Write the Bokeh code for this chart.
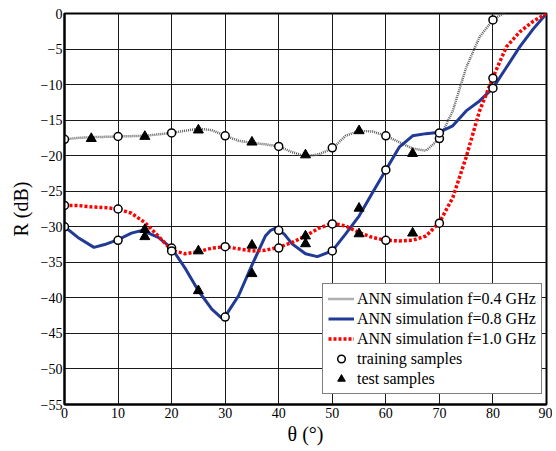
from bokeh.plotting import figure
from bokeh.models import Range1d, Legend, LegendItem, ColumnDataSource, FixedTicker
from bokeh.embed import file_html
from bokeh.resources import INLINE

# ---------------- data ----------------
x_ticks = [0, 10, 20, 30, 40, 50, 60, 70, 80, 90]
y_ticks = [0, -5, -10, -15, -20, -25, -30, -35, -40, -45, -50, -55]

# ANN simulation curves (theta in degrees, R in dB)
theta_04 = [0, 2.5, 5, 7.5, 10, 12.5, 15, 17.5, 20, 22.5, 25, 27.5, 30, 32.5, 35,
            37.5, 40, 42.5, 45, 47.5, 50, 52.5, 55, 57.5, 60, 62.5, 65, 67.5, 70,
            72.5, 75, 77.5, 80, 82.5, 85]
r_04 = [-17.7, -17.5, -17.4, -17.35, -17.3, -17.25, -17.2, -17.0, -16.8, -16.5, -16.2,
        -16.4, -17.2, -17.9, -18.2, -18.4, -18.7, -19.5, -20.1, -19.8, -19.0, -17.2,
        -16.5, -16.6, -17.2, -18.1, -19.0, -19.3, -17.6, -13.7, -7.6, -3.3, -0.9,
        0.3, 1.0]

theta_08 = [0, 2.5, 5.5, 7.5, 10, 12.5, 14.5, 17.5, 20, 22.5, 25, 27.5, 29.3, 30,
            32.5, 35, 37.5, 38.5, 39.4, 41, 42.5, 45, 47.2, 50, 52.5, 55, 57.5, 60,
            62.5, 65, 67.5, 70, 72.5, 75, 77.5, 80, 82.5, 85, 87.5, 90]
r_08 = [-30.0, -31.5, -32.9, -32.5, -31.8, -30.9, -30.5, -31.5, -33.0, -35.8, -39.0,
        -41.6, -42.8, -42.6, -39.7, -35.4, -31.3, -30.5, -30.2, -31.0, -32.4, -33.8,
        -34.2, -33.4, -31.0, -28.5, -25.2, -22.0, -18.8, -17.2, -16.9, -16.7, -15.8,
        -13.7, -12.3, -10.5, -7.6, -4.7, -2.2, 0.0]

theta_10 = [0, 2.5, 5, 7.5, 10, 12.5, 15, 17.5, 20, 22.5, 25, 27.5, 30, 32.5, 35,
            37.5, 40, 42.5, 45, 47.5, 50, 52.5, 55, 57.5, 60, 62.5, 65, 67.5, 70,
            72.5, 75, 77.5, 80, 82.5, 85, 87.5, 90]
r_10 = [-27.0, -27.0, -27.2, -27.3, -27.5, -28.1, -29.4, -31.3, -33.3, -33.8, -33.5,
        -33.0, -32.8, -33.1, -33.4, -33.3, -32.9, -32.2, -31.3, -30.2, -29.5, -29.9,
        -30.8, -31.5, -31.9, -32.0, -31.9, -31.3, -29.4, -25.9, -20.2, -13.7, -9.0,
        -4.7, -2.6, -1.1, 0.0]

# training samples
theta_train = [0, 10, 20, 30, 40, 50, 60, 70, 80]
train_04 = [-17.7, -17.3, -16.8, -17.2, -18.7, -18.9, -17.2, -17.6, -0.9]
train_08 = [-30.0, -31.9, -33.0, -42.7, -30.5, -33.4, -22.0, -16.8, -10.5]
train_10 = [-27.0, -27.5, -33.4, -32.8, -33.0, -29.6, -31.9, -29.5, -9.1]

# test samples
theta_test_04 = [5, 15, 25, 35, 45, 55, 65]
test_04 = [-17.6, -17.3, -16.4, -18.1, -19.9, -16.5, -19.7]
theta_test_08 = [15, 25, 35, 45, 55]
test_08 = [-31.4, -39.0, -36.6, -32.4, -27.4]
theta_test_10 = [15, 25, 35, 45, 55, 65]
test_10 = [-30.4, -33.4, -32.6, -31.3, -31.0, -30.9]

labels = ["ANN simulation f=0.4 GHz", "ANN simulation f=0.8 GHz",
          "ANN simulation f=1.0 GHz", "training samples", "test samples"]

# ---------------- figure ----------------
FONT = "Liberation Serif"
p = figure(width=552, height=447, x_range=Range1d(0, 90), y_range=Range1d(-55, 0),
           output_backend="svg", toolbar_location=None,
           min_border_left=64, min_border_right=6, min_border_top=13, min_border_bottom=43)
p.background_fill_color = "white"
p.border_fill_color = "white"
p.outline_line_color = "black"
p.outline_line_width = 2

p.xaxis.ticker = FixedTicker(ticks=x_ticks)
p.yaxis.ticker = FixedTicker(ticks=y_ticks)
p.axis.axis_line_color = "black"
p.axis.axis_line_width = 2
p.axis.major_tick_in = 0
p.axis.major_tick_out = 0
p.axis.minor_tick_in = 0
p.axis.minor_tick_out = 0
p.axis.major_label_text_font = FONT
p.axis.major_label_text_font_size = "14px"
p.axis.major_label_text_color = "black"
p.axis.axis_label_text_font = FONT
p.axis.axis_label_text_font_size = "20px"
p.axis.axis_label_text_font_style = "normal"
p.axis.axis_label_text_color = "black"
p.xaxis.axis_label = "θ (°)"
p.yaxis.axis_label = "R (dB)"
p.xaxis.major_label_standoff = 3
p.xaxis.axis_label_standoff = 2
p.yaxis.major_label_standoff = 2
p.yaxis.axis_label_standoff = 6

p.xgrid.grid_line_color = "#1a1a1a"
p.ygrid.grid_line_color = "#1a1a1a"
p.xgrid.grid_line_width = 1
p.ygrid.grid_line_width = 1

# curves
l04 = p.line(theta_04, r_04, line_color="#5e5e5e", line_width=2.5, line_dash="1 1")
l08 = p.line(theta_08, r_08, line_color="#203a96", line_width=3)
l10 = p.line(theta_10, r_10, line_color="#ff0000", line_width=3.5, line_dash="3 2")

# samples
train_src = ColumnDataSource(dict(x=theta_train * 3, y=train_04 + train_08 + train_10))
test_src = ColumnDataSource(dict(x=theta_test_04 + theta_test_08 + theta_test_10,
                                 y=test_04 + test_08 + test_10))
tr = p.scatter("x", "y", source=train_src, marker="circle", size=8,
               fill_color="white", line_color="black", line_width=1.5)
te = p.scatter("x", "y", source=test_src, marker="triangle", size=10,
               fill_color="black", line_color="black")

legend = Legend(items=[LegendItem(label=labels[0], renderers=[l04]),
                       LegendItem(label=labels[1], renderers=[l08]),
                       LegendItem(label=labels[2], renderers=[l10]),
                       LegendItem(label=labels[3], renderers=[tr]),
                       LegendItem(label=labels[4], renderers=[te])],
                location=(258, 10))
legend.label_text_font = FONT
legend.label_text_font_size = "16px"
legend.label_text_color = "black"
legend.border_line_color = "black"
legend.border_line_width = 1
legend.background_fill_color = "white"
legend.background_fill_alpha = 1
legend.glyph_width = 26
legend.glyph_height = 19
legend.label_height = 19
legend.label_standoff = 3
legend.spacing = 1
legend.padding = 5
legend.margin = 0
p.add_layout(legend)

open("out.html", "w").write(file_html(p, INLINE))
